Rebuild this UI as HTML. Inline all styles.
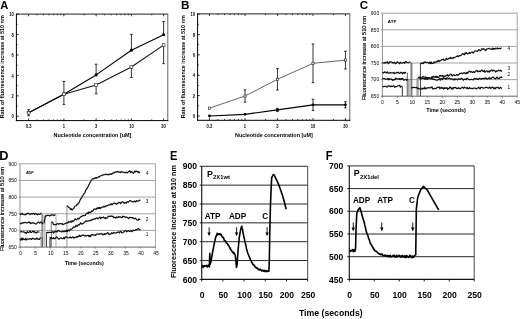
<!DOCTYPE html>
<html><head><meta charset="utf-8"><style>
html,body{margin:0;padding:0;background:#fff;width:520px;height:319px;overflow:hidden}
svg{display:block;filter:blur(0.3px)}
text{font-family:"Liberation Sans",sans-serif}
</style></head><body>
<svg width="520" height="319" viewBox="0 0 520 319">
<rect width="520" height="319" fill="#fff"/>
<text x="0.3" y="8.9" font-size="11.2" font-weight="bold" text-anchor="start" fill="#000">A</text>
<text x="180.9" y="8.9" font-size="11.2" font-weight="bold" text-anchor="start" fill="#000" transform="translate(180.9 8.9) scale(1.05 1) translate(-180.9 -8.9)">B</text>
<text x="359.7" y="8.8" font-size="11.6" font-weight="bold" text-anchor="start" fill="#000">C</text>
<text x="-0.8" y="159.6" font-size="12.3" font-weight="bold" text-anchor="start" fill="#000" transform="translate(-0.8 159.6) scale(1.04 1) translate(0.8 -159.6)">D</text>
<text x="170.1" y="159.7" font-size="12.0" font-weight="bold" text-anchor="start" fill="#000" transform="translate(170.1 159.7) scale(0.92 1) translate(-170.1 -159.7)">E</text>
<text x="325.8" y="159.7" font-size="12.5" font-weight="bold" text-anchor="start" fill="#000" transform="translate(325.8 159.7) scale(0.88 1) translate(-325.8 -159.7)">F</text>
<line x1="16.4" y1="14.1" x2="167.8" y2="14.1" stroke="#222" stroke-width="1"/>
<line x1="167.8" y1="13.6" x2="167.8" y2="121.1" stroke="#666" stroke-width="1"/>
<line x1="16.4" y1="13.6" x2="16.4" y2="121.1" stroke="#000" stroke-width="1"/>
<line x1="15.9" y1="120.6" x2="168.3" y2="120.6" stroke="#000" stroke-width="1"/>
<line x1="16.4" y1="116.3" x2="18.6" y2="116.3" stroke="#000" stroke-width="0.8"/>
<line x1="16.4" y1="106.08" x2="17.6" y2="106.08" stroke="#000" stroke-width="0.8"/>
<line x1="16.4" y1="95.86" x2="18.6" y2="95.86" stroke="#000" stroke-width="0.8"/>
<line x1="16.4" y1="85.64" x2="17.6" y2="85.64" stroke="#000" stroke-width="0.8"/>
<line x1="16.4" y1="75.42" x2="18.6" y2="75.42" stroke="#000" stroke-width="0.8"/>
<line x1="16.4" y1="65.2" x2="17.6" y2="65.2" stroke="#000" stroke-width="0.8"/>
<line x1="16.4" y1="54.98" x2="18.6" y2="54.98" stroke="#000" stroke-width="0.8"/>
<line x1="16.4" y1="44.76" x2="17.6" y2="44.76" stroke="#000" stroke-width="0.8"/>
<line x1="16.4" y1="34.54" x2="18.6" y2="34.54" stroke="#000" stroke-width="0.8"/>
<line x1="16.4" y1="24.32" x2="17.6" y2="24.32" stroke="#000" stroke-width="0.8"/>
<line x1="16.4" y1="14.1" x2="18.6" y2="14.1" stroke="#000" stroke-width="0.8"/>
<text x="13.8" y="118.5" font-size="4.8" font-weight="bold" text-anchor="end" fill="#000" transform="translate(13.8 118.5) scale(0.85 1) translate(-13.8 -118.5)">0</text>
<text x="13.8" y="98.06" font-size="4.8" font-weight="bold" text-anchor="end" fill="#000" transform="translate(13.8 98.06) scale(0.85 1) translate(-13.8 -98.06)">2</text>
<text x="13.8" y="77.62" font-size="4.8" font-weight="bold" text-anchor="end" fill="#000" transform="translate(13.8 77.62) scale(0.85 1) translate(-13.8 -77.62)">4</text>
<text x="13.8" y="57.18" font-size="4.8" font-weight="bold" text-anchor="end" fill="#000" transform="translate(13.8 57.18) scale(0.85 1) translate(-13.8 -57.18)">6</text>
<text x="13.8" y="36.74" font-size="4.8" font-weight="bold" text-anchor="end" fill="#000" transform="translate(13.8 36.74) scale(0.85 1) translate(-13.8 -36.74)">8</text>
<text x="13.8" y="16.3" font-size="4.8" font-weight="bold" text-anchor="end" fill="#000" transform="translate(13.8 16.3) scale(0.85 1) translate(-13.8 -16.3)">10</text>
<line x1="28.61" y1="120.6" x2="28.61" y2="118.4" stroke="#000" stroke-width="0.8"/>
<line x1="28.61" y1="14.1" x2="28.61" y2="16.3" stroke="#000" stroke-width="0.8"/>
<line x1="37.04" y1="120.6" x2="37.04" y2="119.4" stroke="#000" stroke-width="0.8"/>
<line x1="37.04" y1="14.1" x2="37.04" y2="15.3" stroke="#000" stroke-width="0.8"/>
<line x1="43.58" y1="120.6" x2="43.58" y2="119.4" stroke="#000" stroke-width="0.8"/>
<line x1="43.58" y1="14.1" x2="43.58" y2="15.3" stroke="#000" stroke-width="0.8"/>
<line x1="48.93" y1="120.6" x2="48.93" y2="119.4" stroke="#000" stroke-width="0.8"/>
<line x1="48.93" y1="14.1" x2="48.93" y2="15.3" stroke="#000" stroke-width="0.8"/>
<line x1="53.44" y1="120.6" x2="53.44" y2="119.4" stroke="#000" stroke-width="0.8"/>
<line x1="53.44" y1="14.1" x2="53.44" y2="15.3" stroke="#000" stroke-width="0.8"/>
<line x1="57.36" y1="120.6" x2="57.36" y2="119.4" stroke="#000" stroke-width="0.8"/>
<line x1="57.36" y1="14.1" x2="57.36" y2="15.3" stroke="#000" stroke-width="0.8"/>
<line x1="60.81" y1="120.6" x2="60.81" y2="119.4" stroke="#000" stroke-width="0.8"/>
<line x1="60.81" y1="14.1" x2="60.81" y2="15.3" stroke="#000" stroke-width="0.8"/>
<line x1="63.9" y1="120.6" x2="63.9" y2="118.4" stroke="#000" stroke-width="0.8"/>
<line x1="63.9" y1="14.1" x2="63.9" y2="16.3" stroke="#000" stroke-width="0.8"/>
<line x1="84.22" y1="120.6" x2="84.22" y2="119.4" stroke="#000" stroke-width="0.8"/>
<line x1="84.22" y1="14.1" x2="84.22" y2="15.3" stroke="#000" stroke-width="0.8"/>
<line x1="96.11" y1="120.6" x2="96.11" y2="118.4" stroke="#000" stroke-width="0.8"/>
<line x1="96.11" y1="14.1" x2="96.11" y2="16.3" stroke="#000" stroke-width="0.8"/>
<line x1="104.54" y1="120.6" x2="104.54" y2="119.4" stroke="#000" stroke-width="0.8"/>
<line x1="104.54" y1="14.1" x2="104.54" y2="15.3" stroke="#000" stroke-width="0.8"/>
<line x1="111.08" y1="120.6" x2="111.08" y2="119.4" stroke="#000" stroke-width="0.8"/>
<line x1="111.08" y1="14.1" x2="111.08" y2="15.3" stroke="#000" stroke-width="0.8"/>
<line x1="116.43" y1="120.6" x2="116.43" y2="119.4" stroke="#000" stroke-width="0.8"/>
<line x1="116.43" y1="14.1" x2="116.43" y2="15.3" stroke="#000" stroke-width="0.8"/>
<line x1="120.94" y1="120.6" x2="120.94" y2="119.4" stroke="#000" stroke-width="0.8"/>
<line x1="120.94" y1="14.1" x2="120.94" y2="15.3" stroke="#000" stroke-width="0.8"/>
<line x1="124.86" y1="120.6" x2="124.86" y2="119.4" stroke="#000" stroke-width="0.8"/>
<line x1="124.86" y1="14.1" x2="124.86" y2="15.3" stroke="#000" stroke-width="0.8"/>
<line x1="128.31" y1="120.6" x2="128.31" y2="119.4" stroke="#000" stroke-width="0.8"/>
<line x1="128.31" y1="14.1" x2="128.31" y2="15.3" stroke="#000" stroke-width="0.8"/>
<line x1="131.4" y1="120.6" x2="131.4" y2="118.4" stroke="#000" stroke-width="0.8"/>
<line x1="131.4" y1="14.1" x2="131.4" y2="16.3" stroke="#000" stroke-width="0.8"/>
<line x1="151.72" y1="120.6" x2="151.72" y2="119.4" stroke="#000" stroke-width="0.8"/>
<line x1="151.72" y1="14.1" x2="151.72" y2="15.3" stroke="#000" stroke-width="0.8"/>
<line x1="163.61" y1="120.6" x2="163.61" y2="118.4" stroke="#000" stroke-width="0.8"/>
<line x1="163.61" y1="14.1" x2="163.61" y2="16.3" stroke="#000" stroke-width="0.8"/>
<text x="28.61" y="128.2" font-size="4.8" font-weight="bold" text-anchor="middle" fill="#000" transform="translate(28.61 128.2) scale(0.85 1) translate(-28.61 -128.2)">0.3</text>
<text x="63.9" y="128.2" font-size="4.8" font-weight="bold" text-anchor="middle" fill="#000" transform="translate(63.9 128.2) scale(0.85 1) translate(-63.9 -128.2)">1</text>
<text x="96.11" y="128.2" font-size="4.8" font-weight="bold" text-anchor="middle" fill="#000" transform="translate(96.11 128.2) scale(0.85 1) translate(-96.11 -128.2)">3</text>
<text x="131.4" y="128.2" font-size="4.8" font-weight="bold" text-anchor="middle" fill="#000" transform="translate(131.4 128.2) scale(0.85 1) translate(-131.4 -128.2)">10</text>
<text x="163.61" y="128.2" font-size="4.8" font-weight="bold" text-anchor="middle" fill="#000" transform="translate(163.61 128.2) scale(0.85 1) translate(-163.61 -128.2)">30</text>
<text x="92.4" y="137" font-size="5.4" font-weight="bold" text-anchor="middle" fill="#000" textLength="77.8" lengthAdjust="spacingAndGlyphs">Nucleotide concentration [uM]</text>
<text x="3.7" y="66.8" font-size="5.3" font-weight="bold" text-anchor="middle" fill="#000" transform="rotate(-90 3.7 66.8)" textLength="103" lengthAdjust="spacingAndGlyphs">Rate of fluorescence increase at 510 nm</text>
<polyline points="28.61,112.72 63.9,94.22 96.11,74.91 131.4,50.18 163.61,34.74" fill="none" stroke="#000" stroke-width="1.1" stroke-linejoin="round"/>
<polyline points="28.61,112.72 63.9,94.22 96.11,85.03 131.4,67.04 163.61,45.07" fill="none" stroke="#111" stroke-width="1.05" stroke-linejoin="round"/>
<line x1="28.61" y1="109.66" x2="28.61" y2="112.72" stroke="#000" stroke-width="0.8"/>
<line x1="27.31" y1="109.66" x2="29.91" y2="109.66" stroke="#000" stroke-width="0.8"/>
<line x1="63.9" y1="81.45" x2="63.9" y2="94.22" stroke="#000" stroke-width="0.8"/>
<line x1="62.6" y1="81.45" x2="65.2" y2="81.45" stroke="#000" stroke-width="0.8"/>
<line x1="96.11" y1="64.18" x2="96.11" y2="74.91" stroke="#000" stroke-width="0.8"/>
<line x1="94.81" y1="64.18" x2="97.41" y2="64.18" stroke="#000" stroke-width="0.8"/>
<line x1="131.4" y1="34.34" x2="131.4" y2="50.18" stroke="#000" stroke-width="0.8"/>
<line x1="130.1" y1="34.34" x2="132.7" y2="34.34" stroke="#000" stroke-width="0.8"/>
<line x1="163.61" y1="21.56" x2="163.61" y2="34.74" stroke="#000" stroke-width="0.8"/>
<line x1="162.31" y1="21.56" x2="164.91" y2="21.56" stroke="#000" stroke-width="0.8"/>
<line x1="28.61" y1="112.72" x2="28.61" y2="115.79" stroke="#000" stroke-width="0.8"/>
<line x1="27.31" y1="115.79" x2="29.91" y2="115.79" stroke="#000" stroke-width="0.8"/>
<line x1="63.9" y1="94.22" x2="63.9" y2="104.44" stroke="#000" stroke-width="0.8"/>
<line x1="62.6" y1="104.44" x2="65.2" y2="104.44" stroke="#000" stroke-width="0.8"/>
<line x1="96.11" y1="85.03" x2="96.11" y2="93.82" stroke="#000" stroke-width="0.8"/>
<line x1="94.81" y1="93.82" x2="97.41" y2="93.82" stroke="#000" stroke-width="0.8"/>
<line x1="131.4" y1="67.04" x2="131.4" y2="77.57" stroke="#000" stroke-width="0.8"/>
<line x1="130.1" y1="77.57" x2="132.7" y2="77.57" stroke="#000" stroke-width="0.8"/>
<line x1="163.61" y1="45.07" x2="163.61" y2="63.67" stroke="#000" stroke-width="0.8"/>
<line x1="162.31" y1="63.67" x2="164.91" y2="63.67" stroke="#000" stroke-width="0.8"/>
<circle cx="28.61" cy="112.72" r="1.6" fill="#000"/>
<circle cx="63.9" cy="94.22" r="1.6" fill="#000"/>
<circle cx="96.11" cy="74.91" r="1.6" fill="#000"/>
<circle cx="131.4" cy="50.18" r="1.6" fill="#000"/>
<circle cx="163.61" cy="34.74" r="1.6" fill="#000"/>
<rect x="27.21" y="111.32" width="2.8" height="2.8" fill="#fff" stroke="#333" stroke-width="0.7"/>
<rect x="62.5" y="92.82" width="2.8" height="2.8" fill="#fff" stroke="#333" stroke-width="0.7"/>
<rect x="94.71" y="83.63" width="2.8" height="2.8" fill="#fff" stroke="#333" stroke-width="0.7"/>
<rect x="130" y="65.64" width="2.8" height="2.8" fill="#fff" stroke="#333" stroke-width="0.7"/>
<rect x="162.21" y="43.67" width="2.8" height="2.8" fill="#fff" stroke="#333" stroke-width="0.7"/>
<line x1="197.6" y1="13.9" x2="349.8" y2="13.9" stroke="#222" stroke-width="1"/>
<line x1="349.8" y1="13.4" x2="349.8" y2="120.8" stroke="#666" stroke-width="1"/>
<line x1="197.6" y1="13.4" x2="197.6" y2="120.8" stroke="#000" stroke-width="1"/>
<line x1="197.1" y1="120.3" x2="350.3" y2="120.3" stroke="#000" stroke-width="1"/>
<line x1="197.6" y1="116" x2="199.8" y2="116" stroke="#000" stroke-width="0.8"/>
<line x1="197.6" y1="105.81" x2="198.8" y2="105.81" stroke="#000" stroke-width="0.8"/>
<line x1="197.6" y1="95.62" x2="199.8" y2="95.62" stroke="#000" stroke-width="0.8"/>
<line x1="197.6" y1="85.43" x2="198.8" y2="85.43" stroke="#000" stroke-width="0.8"/>
<line x1="197.6" y1="75.24" x2="199.8" y2="75.24" stroke="#000" stroke-width="0.8"/>
<line x1="197.6" y1="65.05" x2="198.8" y2="65.05" stroke="#000" stroke-width="0.8"/>
<line x1="197.6" y1="54.86" x2="199.8" y2="54.86" stroke="#000" stroke-width="0.8"/>
<line x1="197.6" y1="44.67" x2="198.8" y2="44.67" stroke="#000" stroke-width="0.8"/>
<line x1="197.6" y1="34.48" x2="199.8" y2="34.48" stroke="#000" stroke-width="0.8"/>
<line x1="197.6" y1="24.29" x2="198.8" y2="24.29" stroke="#000" stroke-width="0.8"/>
<line x1="197.6" y1="14.1" x2="199.8" y2="14.1" stroke="#000" stroke-width="0.8"/>
<text x="195" y="118.2" font-size="4.8" font-weight="bold" text-anchor="end" fill="#000" transform="translate(195 118.2) scale(0.85 1) translate(-195 -118.2)">0</text>
<text x="195" y="97.82" font-size="4.8" font-weight="bold" text-anchor="end" fill="#000" transform="translate(195 97.82) scale(0.85 1) translate(-195 -97.82)">2</text>
<text x="195" y="77.44" font-size="4.8" font-weight="bold" text-anchor="end" fill="#000" transform="translate(195 77.44) scale(0.85 1) translate(-195 -77.44)">4</text>
<text x="195" y="57.06" font-size="4.8" font-weight="bold" text-anchor="end" fill="#000" transform="translate(195 57.06) scale(0.85 1) translate(-195 -57.06)">6</text>
<text x="195" y="36.68" font-size="4.8" font-weight="bold" text-anchor="end" fill="#000" transform="translate(195 36.68) scale(0.85 1) translate(-195 -36.68)">8</text>
<text x="195" y="16.3" font-size="4.8" font-weight="bold" text-anchor="end" fill="#000" transform="translate(195 16.3) scale(0.85 1) translate(-195 -16.3)">10</text>
<line x1="209.44" y1="120.3" x2="209.44" y2="118.1" stroke="#000" stroke-width="0.8"/>
<line x1="209.44" y1="13.9" x2="209.44" y2="16.1" stroke="#000" stroke-width="0.8"/>
<line x1="217.94" y1="120.3" x2="217.94" y2="119.1" stroke="#000" stroke-width="0.8"/>
<line x1="217.94" y1="13.9" x2="217.94" y2="15.1" stroke="#000" stroke-width="0.8"/>
<line x1="224.53" y1="120.3" x2="224.53" y2="119.1" stroke="#000" stroke-width="0.8"/>
<line x1="224.53" y1="13.9" x2="224.53" y2="15.1" stroke="#000" stroke-width="0.8"/>
<line x1="229.91" y1="120.3" x2="229.91" y2="119.1" stroke="#000" stroke-width="0.8"/>
<line x1="229.91" y1="13.9" x2="229.91" y2="15.1" stroke="#000" stroke-width="0.8"/>
<line x1="234.47" y1="120.3" x2="234.47" y2="119.1" stroke="#000" stroke-width="0.8"/>
<line x1="234.47" y1="13.9" x2="234.47" y2="15.1" stroke="#000" stroke-width="0.8"/>
<line x1="238.41" y1="120.3" x2="238.41" y2="119.1" stroke="#000" stroke-width="0.8"/>
<line x1="238.41" y1="13.9" x2="238.41" y2="15.1" stroke="#000" stroke-width="0.8"/>
<line x1="241.89" y1="120.3" x2="241.89" y2="119.1" stroke="#000" stroke-width="0.8"/>
<line x1="241.89" y1="13.9" x2="241.89" y2="15.1" stroke="#000" stroke-width="0.8"/>
<line x1="245" y1="120.3" x2="245" y2="118.1" stroke="#000" stroke-width="0.8"/>
<line x1="245" y1="13.9" x2="245" y2="16.1" stroke="#000" stroke-width="0.8"/>
<line x1="265.47" y1="120.3" x2="265.47" y2="119.1" stroke="#000" stroke-width="0.8"/>
<line x1="265.47" y1="13.9" x2="265.47" y2="15.1" stroke="#000" stroke-width="0.8"/>
<line x1="277.44" y1="120.3" x2="277.44" y2="118.1" stroke="#000" stroke-width="0.8"/>
<line x1="277.44" y1="13.9" x2="277.44" y2="16.1" stroke="#000" stroke-width="0.8"/>
<line x1="285.94" y1="120.3" x2="285.94" y2="119.1" stroke="#000" stroke-width="0.8"/>
<line x1="285.94" y1="13.9" x2="285.94" y2="15.1" stroke="#000" stroke-width="0.8"/>
<line x1="292.53" y1="120.3" x2="292.53" y2="119.1" stroke="#000" stroke-width="0.8"/>
<line x1="292.53" y1="13.9" x2="292.53" y2="15.1" stroke="#000" stroke-width="0.8"/>
<line x1="297.91" y1="120.3" x2="297.91" y2="119.1" stroke="#000" stroke-width="0.8"/>
<line x1="297.91" y1="13.9" x2="297.91" y2="15.1" stroke="#000" stroke-width="0.8"/>
<line x1="302.47" y1="120.3" x2="302.47" y2="119.1" stroke="#000" stroke-width="0.8"/>
<line x1="302.47" y1="13.9" x2="302.47" y2="15.1" stroke="#000" stroke-width="0.8"/>
<line x1="306.41" y1="120.3" x2="306.41" y2="119.1" stroke="#000" stroke-width="0.8"/>
<line x1="306.41" y1="13.9" x2="306.41" y2="15.1" stroke="#000" stroke-width="0.8"/>
<line x1="309.89" y1="120.3" x2="309.89" y2="119.1" stroke="#000" stroke-width="0.8"/>
<line x1="309.89" y1="13.9" x2="309.89" y2="15.1" stroke="#000" stroke-width="0.8"/>
<line x1="313" y1="120.3" x2="313" y2="118.1" stroke="#000" stroke-width="0.8"/>
<line x1="313" y1="13.9" x2="313" y2="16.1" stroke="#000" stroke-width="0.8"/>
<line x1="333.47" y1="120.3" x2="333.47" y2="119.1" stroke="#000" stroke-width="0.8"/>
<line x1="333.47" y1="13.9" x2="333.47" y2="15.1" stroke="#000" stroke-width="0.8"/>
<line x1="345.44" y1="120.3" x2="345.44" y2="118.1" stroke="#000" stroke-width="0.8"/>
<line x1="345.44" y1="13.9" x2="345.44" y2="16.1" stroke="#000" stroke-width="0.8"/>
<text x="209.44" y="127.9" font-size="4.8" font-weight="bold" text-anchor="middle" fill="#000" transform="translate(209.44 127.9) scale(0.85 1) translate(-209.44 -127.9)">0.3</text>
<text x="245" y="127.9" font-size="4.8" font-weight="bold" text-anchor="middle" fill="#000" transform="translate(245 127.9) scale(0.85 1) translate(-245 -127.9)">1</text>
<text x="277.44" y="127.9" font-size="4.8" font-weight="bold" text-anchor="middle" fill="#000" transform="translate(277.44 127.9) scale(0.85 1) translate(-277.44 -127.9)">3</text>
<text x="313" y="127.9" font-size="4.8" font-weight="bold" text-anchor="middle" fill="#000" transform="translate(313 127.9) scale(0.85 1) translate(-313 -127.9)">10</text>
<text x="345.44" y="127.9" font-size="4.8" font-weight="bold" text-anchor="middle" fill="#000" transform="translate(345.44 127.9) scale(0.85 1) translate(-345.44 -127.9)">30</text>
<text x="274" y="136.7" font-size="5.4" font-weight="bold" text-anchor="middle" fill="#000" textLength="77.8" lengthAdjust="spacingAndGlyphs">Nucleotide concentration [uM]</text>
<text x="185.3" y="66.8" font-size="5.3" font-weight="bold" text-anchor="middle" fill="#000" transform="rotate(-90 185.3 66.8)" textLength="103" lengthAdjust="spacingAndGlyphs">Rate of fluorescence increase at 510 nm</text>
<polyline points="209.44,116 245,114.37 277.44,109.89 313,104.79 345.44,104.79" fill="none" stroke="#000" stroke-width="1.2" stroke-linejoin="round"/>
<polyline points="209.44,108.15 245,96.03 277.44,79.32 313,63.32 345.44,60.16" fill="none" stroke="#555" stroke-width="0.9" stroke-linejoin="round"/>
<line x1="277.44" y1="108.36" x2="277.44" y2="111.41" stroke="#000" stroke-width="0.8"/>
<line x1="276.14" y1="108.36" x2="278.74" y2="108.36" stroke="#000" stroke-width="0.8"/>
<line x1="276.14" y1="111.41" x2="278.74" y2="111.41" stroke="#000" stroke-width="0.8"/>
<line x1="313" y1="99.19" x2="313" y2="110.4" stroke="#000" stroke-width="0.8"/>
<line x1="311.7" y1="99.19" x2="314.3" y2="99.19" stroke="#000" stroke-width="0.8"/>
<line x1="311.7" y1="110.4" x2="314.3" y2="110.4" stroke="#000" stroke-width="0.8"/>
<line x1="345.44" y1="101.73" x2="345.44" y2="107.85" stroke="#000" stroke-width="0.8"/>
<line x1="344.14" y1="101.73" x2="346.74" y2="101.73" stroke="#000" stroke-width="0.8"/>
<line x1="344.14" y1="107.85" x2="346.74" y2="107.85" stroke="#000" stroke-width="0.8"/>
<line x1="245" y1="89.91" x2="245" y2="102.14" stroke="#000" stroke-width="0.8"/>
<line x1="243.7" y1="89.91" x2="246.3" y2="89.91" stroke="#000" stroke-width="0.8"/>
<line x1="243.7" y1="102.14" x2="246.3" y2="102.14" stroke="#000" stroke-width="0.8"/>
<line x1="277.44" y1="68.62" x2="277.44" y2="90.02" stroke="#000" stroke-width="0.8"/>
<line x1="276.14" y1="68.62" x2="278.74" y2="68.62" stroke="#000" stroke-width="0.8"/>
<line x1="276.14" y1="90.02" x2="278.74" y2="90.02" stroke="#000" stroke-width="0.8"/>
<line x1="313" y1="43.96" x2="313" y2="82.68" stroke="#000" stroke-width="0.8"/>
<line x1="311.7" y1="43.96" x2="314.3" y2="43.96" stroke="#000" stroke-width="0.8"/>
<line x1="311.7" y1="82.68" x2="314.3" y2="82.68" stroke="#000" stroke-width="0.8"/>
<line x1="345.44" y1="51.29" x2="345.44" y2="69.02" stroke="#000" stroke-width="0.8"/>
<line x1="344.14" y1="51.29" x2="346.74" y2="51.29" stroke="#000" stroke-width="0.8"/>
<line x1="344.14" y1="69.02" x2="346.74" y2="69.02" stroke="#000" stroke-width="0.8"/>
<circle cx="209.44" cy="116" r="1.4" fill="#000"/>
<circle cx="245" cy="114.37" r="1.4" fill="#000"/>
<circle cx="277.44" cy="109.89" r="1.4" fill="#000"/>
<circle cx="313" cy="104.79" r="1.4" fill="#000"/>
<circle cx="345.44" cy="104.79" r="1.4" fill="#000"/>
<rect x="208.34" y="107.05" width="2.2" height="2.2" fill="#fff" stroke="#333" stroke-width="0.7"/>
<rect x="243.9" y="94.93" width="2.2" height="2.2" fill="#fff" stroke="#333" stroke-width="0.7"/>
<rect x="276.34" y="78.22" width="2.2" height="2.2" fill="#fff" stroke="#333" stroke-width="0.7"/>
<rect x="311.9" y="62.22" width="2.2" height="2.2" fill="#fff" stroke="#333" stroke-width="0.7"/>
<rect x="344.34" y="59.06" width="2.2" height="2.2" fill="#fff" stroke="#333" stroke-width="0.7"/>
<line x1="380.9" y1="13.2" x2="517.2" y2="13.2" stroke="#8c8c8c" stroke-width="0.8"/>
<line x1="380.9" y1="29.8" x2="517.2" y2="29.8" stroke="#8c8c8c" stroke-width="0.8"/>
<line x1="380.9" y1="46.4" x2="517.2" y2="46.4" stroke="#8c8c8c" stroke-width="0.8"/>
<line x1="380.9" y1="63" x2="517.2" y2="63" stroke="#8c8c8c" stroke-width="0.8"/>
<line x1="380.9" y1="79.6" x2="517.2" y2="79.6" stroke="#8c8c8c" stroke-width="0.8"/>
<line x1="517.2" y1="13.2" x2="517.2" y2="96.2" stroke="#8c8c8c" stroke-width="0.8"/>
<line x1="382.4" y1="13.2" x2="382.4" y2="96.2" stroke="#777" stroke-width="0.8"/>
<line x1="380.9" y1="96.2" x2="517.2" y2="96.2" stroke="#555" stroke-width="0.9"/>
<text x="379.2" y="15" font-size="5.0" text-anchor="end" fill="#000">900</text>
<text x="379.2" y="31.6" font-size="5.0" text-anchor="end" fill="#000">850</text>
<text x="379.2" y="48.2" font-size="5.0" text-anchor="end" fill="#000">800</text>
<text x="379.2" y="64.8" font-size="5.0" text-anchor="end" fill="#000">750</text>
<text x="379.2" y="81.4" font-size="5.0" text-anchor="end" fill="#000">700</text>
<text x="379.2" y="98" font-size="5.0" text-anchor="end" fill="#000">650</text>
<line x1="382.4" y1="96.2" x2="382.4" y2="97.7" stroke="#555" stroke-width="0.7"/>
<text x="382.4" y="103.7" font-size="5.0" text-anchor="middle" fill="#000">0</text>
<line x1="397.38" y1="96.2" x2="397.38" y2="97.7" stroke="#555" stroke-width="0.7"/>
<text x="397.38" y="103.7" font-size="5.0" text-anchor="middle" fill="#000">5</text>
<line x1="412.36" y1="96.2" x2="412.36" y2="97.7" stroke="#555" stroke-width="0.7"/>
<text x="412.36" y="103.7" font-size="5.0" text-anchor="middle" fill="#000">10</text>
<line x1="427.33" y1="96.2" x2="427.33" y2="97.7" stroke="#555" stroke-width="0.7"/>
<text x="427.33" y="103.7" font-size="5.0" text-anchor="middle" fill="#000">15</text>
<line x1="442.31" y1="96.2" x2="442.31" y2="97.7" stroke="#555" stroke-width="0.7"/>
<text x="442.31" y="103.7" font-size="5.0" text-anchor="middle" fill="#000">20</text>
<line x1="457.29" y1="96.2" x2="457.29" y2="97.7" stroke="#555" stroke-width="0.7"/>
<text x="457.29" y="103.7" font-size="5.0" text-anchor="middle" fill="#000">25</text>
<line x1="472.27" y1="96.2" x2="472.27" y2="97.7" stroke="#555" stroke-width="0.7"/>
<text x="472.27" y="103.7" font-size="5.0" text-anchor="middle" fill="#000">30</text>
<line x1="487.24" y1="96.2" x2="487.24" y2="97.7" stroke="#555" stroke-width="0.7"/>
<text x="487.24" y="103.7" font-size="5.0" text-anchor="middle" fill="#000">35</text>
<line x1="502.22" y1="96.2" x2="502.22" y2="97.7" stroke="#555" stroke-width="0.7"/>
<text x="502.22" y="103.7" font-size="5.0" text-anchor="middle" fill="#000">40</text>
<line x1="517.2" y1="96.2" x2="517.2" y2="97.7" stroke="#555" stroke-width="0.7"/>
<text x="517.2" y="103.7" font-size="5.0" text-anchor="middle" fill="#000">45</text>
<text x="446" y="111.6" font-size="5.4" font-weight="bold" text-anchor="middle" fill="#000" textLength="39.5" lengthAdjust="spacingAndGlyphs">Time (seconds)</text>
<text x="365.7" y="58.1" font-size="5.9" text-anchor="middle" fill="#000" transform="rotate(-90 365.7 58.1)" stroke="#000" stroke-width="0.15" textLength="84.2" lengthAdjust="spacingAndGlyphs">Fluorescence increase at 510 nm</text>
<text x="387.8" y="22.9" font-size="4.4" font-weight="bold" text-anchor="start" fill="#000" textLength="8.6" lengthAdjust="spacingAndGlyphs">ATP</text>
<line x1="411.16" y1="62.67" x2="411.16" y2="96.2" stroke="#000" stroke-width="0.8"/>
<line x1="412.21" y1="62.67" x2="412.21" y2="96.2" stroke="#999" stroke-width="0.8"/>
<line x1="407.26" y1="72.63" x2="407.26" y2="96.2" stroke="#333" stroke-width="0.8"/>
<line x1="408.91" y1="79.27" x2="408.91" y2="96.2" stroke="#444" stroke-width="0.8"/>
<line x1="402.32" y1="86.24" x2="402.32" y2="96.2" stroke="#000" stroke-width="0.8"/>
<line x1="420.44" y1="63" x2="420.44" y2="96.2" stroke="#111" stroke-width="0.8"/>
<line x1="416.85" y1="77.61" x2="416.85" y2="96.2" stroke="#999" stroke-width="0.8"/>
<line x1="417.6" y1="77.61" x2="417.6" y2="96.2" stroke="#888" stroke-width="0.8"/>
<line x1="418.35" y1="77.61" x2="418.35" y2="96.2" stroke="#999" stroke-width="0.8"/>
<polyline points="382.4,62.73 383.12,62.94 383.84,63.01 384.56,62.55 385.28,63.18 385.99,62.02 386.71,62.65 387.43,61.75 388.15,63.74 388.87,63.17 389.59,61.77 390.31,61.91 391.03,61.97 391.75,62.05 392.47,62.85 393.18,62.69 393.9,62.81 394.62,62.19 395.34,63.83 396.06,63.5 396.78,62.36 397.5,61.87 398.22,62.67 398.94,62.87 399.65,63.85 400.37,62.14 401.09,62.93 401.81,63.08 402.53,62.88 403.25,62.52 403.97,62.19 404.69,63.35 405.41,62.09 406.12,61.52 406.84,62.13 407.56,62.62 408.28,62.82 409,62.46 409.72,61.96 410.44,61.7" fill="none" stroke="#111" stroke-width="1.2" stroke-linejoin="round"/>
<polyline points="420.44,63.97 421.16,63.75 421.88,62.56 422.6,63.39 423.32,63.56 424.04,62.07 424.76,62.58 425.48,61.92 426.2,62.52 426.91,62.5 427.63,62.3 428.35,62.92 429.07,63.6 429.79,61.95 430.51,63.57 431.23,62.09 431.95,63.67 432.67,63.33 433.38,63.08 434.1,61.84 434.82,62.77 435.54,62.04 436.26,62.05 436.98,61.21 437.7,61.59 438.42,60.31 439.14,61.57 439.85,60.6 440.57,60.69 441.29,60.03 442.01,59.49 442.73,59.61 443.45,59.2 444.17,60.3 444.89,60.19 445.61,59.9 446.33,58.24 447.04,59.21 447.76,59.47 448.48,58.29 449.2,58.43 449.92,58.66 450.64,57.39 451.36,58.27 452.08,57.97 452.8,58.35 453.51,57.45 454.23,57.9 454.95,57.31 455.67,56.96 456.39,56.35 457.11,56.47 457.83,55.81 458.55,56.56 459.27,55.53 459.98,55.72 460.7,55.76 461.42,54.96 462.14,54.2 462.86,53.57 463.58,54.2 464.3,54.9 465.02,52.84 465.74,53.76 466.46,52.51 467.17,53.76 467.89,53.91 468.61,53.17 469.33,52.37 470.05,53.48 470.77,52.68 471.49,52.3 472.21,52.01 472.93,52.83 473.64,52.94 474.36,51.03 475.08,51.01 475.8,50.85 476.52,51.05 477.24,51.36 477.96,51 478.68,49.56 479.4,49.82 480.12,50.7 480.83,50.63 481.55,48.9 482.27,48.73 482.99,49.43 483.71,48.62 484.43,49.46 485.15,49.87 485.87,50.56 486.59,49.13 487.3,48.83 488.02,48.74 488.74,48.44 489.46,48.44 490.18,48.92 490.9,49.33 491.62,49.15 492.34,48.16 493.06,49.45 493.77,48.3 494.49,49.13 495.21,48.26 495.93,48.93 496.65,48.5 497.37,47.84 498.09,48.85 498.81,48.51 499.53,48.31 500.25,48.79 500.96,48.22 501.68,48.15" fill="none" stroke="#111" stroke-width="1.2" stroke-linejoin="round"/>
<polyline points="382.4,72.67 383.12,72.36 383.84,73.01 384.56,71.8 385.28,72.14 385.99,72.47 386.71,73.2 387.43,71.81 388.15,72.87 388.87,73.14 389.59,73.1 390.31,72.61 391.03,72.84 391.75,72.93 392.47,72.74 393.18,73.05 393.9,72.47 394.62,73.6 395.34,73.15 396.06,73.02 396.78,72.41 397.5,72.83 398.22,72.05 398.94,73.16 399.65,73.35 400.37,72.8 401.09,72.18 401.81,72.68 402.53,73.82 403.25,72.69 403.97,72.27 404.69,73.4 405.41,72.38 406.12,72.6" fill="none" stroke="#111" stroke-width="1.2" stroke-linejoin="round"/>
<polyline points="418.05,77.32 418.77,77.23 419.48,77.13 420.2,77.46 420.92,77.8 421.64,77.65 422.36,77.07 423.08,76.5 423.8,77.18 424.52,77.15 425.24,76.84 425.96,77.49 426.67,77.57 427.39,78.07 428.11,77.54 428.83,78.55 429.55,77.77 430.27,78.37 430.99,78.11 431.71,76.89 432.43,77.56 433.14,76.18 433.86,77.11 434.58,76.72 435.3,77.45 436.02,76.04 436.74,77.57 437.46,76.52 438.18,77.47 438.9,77.19 439.62,75.69 440.33,75.29 441.05,76.28 441.77,75.66 442.49,75.41 443.21,77.16 443.93,75.78 444.65,76.64 445.37,76.21 446.09,75.46 446.8,75.39 447.52,74.67 448.24,76.23 448.96,75.06 449.68,75.14 450.4,74.29 451.12,74 451.84,75.71 452.56,75.78 453.27,74.83 453.99,74.86 454.71,75.61 455.43,75.23 456.15,75.05 456.87,74.43 457.59,75.35 458.31,74.96 459.03,74.22 459.75,73.48 460.46,73.72 461.18,72.88 461.9,73.51 462.62,73.75 463.34,72.8 464.06,73.25 464.78,72.79 465.5,73.53 466.22,73.6 466.93,72.39 467.65,73.37 468.37,72.21 469.09,71.27 469.81,71 470.53,72.24 471.25,71.61 471.97,72.1 472.69,72.49 473.4,71.48 474.12,72.51 474.84,72.19 475.56,71.08 476.28,70.95 477,70.45 477.72,71.56 478.44,71.77 479.16,70.98 479.88,71.59 480.59,71.6 481.31,70.17 482.03,70.06 482.75,71.15 483.47,71.49 484.19,70.32 484.91,72.35 485.63,71.69 486.35,70.88 487.06,70.9 487.78,72 488.5,71.23 489.22,72.12 489.94,70.67 490.66,71.17 491.38,69.98 492.1,70.12 492.82,71.01 493.54,70.22 494.25,70.57 494.97,70.97 495.69,72.04 496.41,70.69 497.13,71.25 497.85,70.99 498.57,70.09 499.29,70.74 500.01,70.84 500.72,70.16 501.44,71.18 502.16,71.35" fill="none" stroke="#111" stroke-width="1.2" stroke-linejoin="round"/>
<polyline points="382.4,78.16 383.12,78.73 383.84,78.46 384.56,78.51 385.28,79.18 385.99,79.3 386.71,79.02 387.43,78.64 388.15,79.81 388.87,78.28 389.59,79.51 390.31,79.04 391.03,78.95 391.75,79.36 392.47,80.39 393.18,79.39 393.9,80.19 394.62,79.13 395.34,79.6 396.06,78.06 396.78,78.98 397.5,78.93 398.22,78.79 398.94,79.43 399.65,78.54 400.37,79.53 401.09,78.47 401.81,79.4 402.53,78.38 403.25,79.4 403.97,80.35 404.69,79.72 405.41,79.53 406.12,79.3 406.84,80.4 407.56,79.12" fill="none" stroke="#111" stroke-width="1.2" stroke-linejoin="round"/>
<polyline points="418.05,77.9 418.77,77.93 419.48,78.06 420.2,78.46 420.92,78.8 421.64,78.76 422.36,78.3 423.08,78.2 423.8,78.46 424.52,79.1 425.24,78.2 425.96,79.37 426.67,77.61 427.39,79.39 428.11,78.52 428.83,78.55 429.55,78 430.27,78.78 430.99,78.96 431.71,78.2 432.43,79.33 433.14,78.98 433.86,79.44 434.58,79.18 435.3,79.74 436.02,80.08 436.74,80.27 437.46,79.97 438.18,79.81 438.9,79.37 439.62,78.58 440.33,80.22 441.05,78.47 441.77,78.63 442.49,79.51 443.21,78.05 443.93,78.55 444.65,78.24 445.37,78.43 446.09,79.52 446.8,77.76 447.52,77.9 448.24,78.81 448.96,78.26 449.68,78.2 450.4,78.95 451.12,78.63 451.84,79.01 452.56,79.54 453.27,79.03 453.99,80.09 454.71,78.68 455.43,79.56 456.15,78.96 456.87,79.2 457.59,79.84 458.31,78.7 459.03,78.67 459.75,79.31 460.46,79.31 461.18,78.21 461.9,78.38 462.62,79.32 463.34,80.26 464.06,79.15 464.78,79.31 465.5,79.11 466.22,79.7 466.93,78.37 467.65,78.43 468.37,79.12 469.09,79.77 469.81,79.44 470.53,79.69 471.25,79.25 471.97,79.47 472.69,79.77 473.4,79.79 474.12,78.66 474.84,78.31 475.56,79.18 476.28,79.11 477,78.32 477.72,79.5 478.44,79.35 479.16,78.35 479.88,78.41 480.59,78.85 481.31,79.33 482.03,78.32 482.75,78.54 483.47,78.8 484.19,78.24 484.91,78.79 485.63,77.78 486.35,78.33 487.06,79.12 487.78,78.71 488.5,78.35 489.22,77.75 489.94,78.97 490.66,78.01 491.38,78.69 492.1,77.53 492.82,77.1 493.54,77.06 494.25,78.17 494.97,78.46 495.69,78.93 496.41,77.77 497.13,77.04 497.85,78.15 498.57,78.74 499.29,78.36 500.01,77.24 500.72,77.71 501.44,76.92 502.16,77.83" fill="none" stroke="#111" stroke-width="1.2" stroke-linejoin="round"/>
<polyline points="382.4,86.69 383.12,86.56 383.84,86.58 384.56,86.28 385.28,86.32 385.99,86.5 386.71,87.11 387.43,86.92 388.15,85.81 388.87,85.52 389.59,86.45 390.31,86.74 391.03,85.94 391.75,86.57 392.47,86.33 393.18,86.03 393.9,85.72 394.62,87.31 395.34,86.82 396.06,86.71 396.78,86.68 397.5,86.02 398.22,85.79 398.94,85.62 399.65,85.37 400.37,87.16 401.09,86.17 401.81,86.92" fill="none" stroke="#111" stroke-width="1.2" stroke-linejoin="round"/>
<polyline points="411.16,88.12 411.88,87.4 412.6,87.86 413.31,87.45 414.03,87.3 414.75,87.55 415.47,87.77 416.19,87.37 416.91,87.66 417.63,88.8 418.35,88.21 419.07,88.7 419.78,88.93 420.5,89.19 421.22,89.15 421.94,88.13 422.66,88.97 423.38,88.24 424.1,88.81 424.82,87.11 425.54,88.9 426.25,88.52 426.97,88.11 427.69,87.61 428.41,87.82 429.13,87.79 429.85,87.96 430.57,87.35 431.29,87.55 432.01,86.86 432.73,89.02 433.44,88.94 434.16,88.67 434.88,88.29 435.6,88.72 436.32,88.19 437.04,87.55 437.76,87.22 438.48,87.51 439.2,87 439.91,88.82 440.63,87.83 441.35,87.34 442.07,88.42 442.79,87.67 443.51,89.08 444.23,87.61 444.95,88.68 445.67,87.79 446.39,88.27 447.1,87.73 447.82,89.45 448.54,88.33 449.26,88.49 449.98,86.8 450.7,87.6 451.42,89.01 452.14,87.77 452.86,89.25 453.57,87.49 454.29,87.58 455.01,87.63 455.73,87.37 456.45,88.6 457.17,88.25 457.89,88.51 458.61,87.63 459.33,88.71 460.04,88.32 460.76,88.57 461.48,87.84 462.2,87.11 462.92,87.69 463.64,88.39 464.36,87.18 465.08,87.54 465.8,87.91 466.52,88.35 467.23,87.41 467.95,88.59 468.67,88.78 469.39,87.45 470.11,88.36 470.83,88.24 471.55,88.29 472.27,88.81 472.99,88.34 473.7,88.03 474.42,88.04 475.14,88.04 475.86,88.77 476.58,88.98 477.3,88.04 478.02,87.96 478.74,87.08 479.46,88.45 480.17,88.8 480.89,87.19 481.61,87.47 482.33,87.55 483.05,88.14 483.77,88.14 484.49,87.81 485.21,87.66 485.93,87.44 486.65,87.15 487.36,87.87 488.08,87.87 488.8,88.06 489.52,86.98 490.24,87.72 490.96,88.46 491.68,87.44 492.4,87.15 493.12,87.42 493.83,88.64 494.55,87.92 495.27,88.77 495.99,87.34 496.71,87.62 497.43,87.72 498.15,87.25 498.87,88.51 499.59,88.45 500.31,87.36 501.02,87.49 501.74,88.74" fill="none" stroke="#111" stroke-width="1.2" stroke-linejoin="round"/>
<text x="508.81" y="49.76" font-size="4.7" text-anchor="middle" fill="#000">4</text>
<text x="508.81" y="70.01" font-size="4.7" text-anchor="middle" fill="#000">3</text>
<text x="508.81" y="75.99" font-size="4.7" text-anchor="middle" fill="#000">2</text>
<text x="508.81" y="88.94" font-size="4.7" text-anchor="middle" fill="#000">1</text>
<line x1="18.5" y1="163.8" x2="155.4" y2="163.8" stroke="#8c8c8c" stroke-width="0.8"/>
<line x1="18.5" y1="180.46" x2="155.4" y2="180.46" stroke="#8c8c8c" stroke-width="0.8"/>
<line x1="18.5" y1="197.12" x2="155.4" y2="197.12" stroke="#8c8c8c" stroke-width="0.8"/>
<line x1="18.5" y1="213.78" x2="155.4" y2="213.78" stroke="#8c8c8c" stroke-width="0.8"/>
<line x1="18.5" y1="230.44" x2="155.4" y2="230.44" stroke="#8c8c8c" stroke-width="0.8"/>
<line x1="155.4" y1="163.8" x2="155.4" y2="247.1" stroke="#8c8c8c" stroke-width="0.8"/>
<line x1="20" y1="163.8" x2="20" y2="247.1" stroke="#777" stroke-width="0.8"/>
<line x1="18.5" y1="247.1" x2="155.4" y2="247.1" stroke="#555" stroke-width="0.9"/>
<text x="16.8" y="165.6" font-size="5.0" text-anchor="end" fill="#000">900</text>
<text x="16.8" y="182.26" font-size="5.0" text-anchor="end" fill="#000">850</text>
<text x="16.8" y="198.92" font-size="5.0" text-anchor="end" fill="#000">800</text>
<text x="16.8" y="215.58" font-size="5.0" text-anchor="end" fill="#000">750</text>
<text x="16.8" y="232.24" font-size="5.0" text-anchor="end" fill="#000">700</text>
<text x="16.8" y="248.9" font-size="5.0" text-anchor="end" fill="#000">650</text>
<line x1="20" y1="247.1" x2="20" y2="248.6" stroke="#555" stroke-width="0.7"/>
<text x="20.6" y="255.3" font-size="5.0" text-anchor="middle" fill="#000">0</text>
<line x1="35.04" y1="247.1" x2="35.04" y2="248.6" stroke="#555" stroke-width="0.7"/>
<text x="35.64" y="255.3" font-size="5.0" text-anchor="middle" fill="#000">5</text>
<line x1="50.09" y1="247.1" x2="50.09" y2="248.6" stroke="#555" stroke-width="0.7"/>
<text x="50.69" y="255.3" font-size="5.0" text-anchor="middle" fill="#000">10</text>
<line x1="65.13" y1="247.1" x2="65.13" y2="248.6" stroke="#555" stroke-width="0.7"/>
<text x="65.73" y="255.3" font-size="5.0" text-anchor="middle" fill="#000">15</text>
<line x1="80.18" y1="247.1" x2="80.18" y2="248.6" stroke="#555" stroke-width="0.7"/>
<text x="80.78" y="255.3" font-size="5.0" text-anchor="middle" fill="#000">20</text>
<line x1="95.22" y1="247.1" x2="95.22" y2="248.6" stroke="#555" stroke-width="0.7"/>
<text x="95.82" y="255.3" font-size="5.0" text-anchor="middle" fill="#000">25</text>
<line x1="110.27" y1="247.1" x2="110.27" y2="248.6" stroke="#555" stroke-width="0.7"/>
<text x="110.87" y="255.3" font-size="5.0" text-anchor="middle" fill="#000">30</text>
<line x1="125.31" y1="247.1" x2="125.31" y2="248.6" stroke="#555" stroke-width="0.7"/>
<text x="125.91" y="255.3" font-size="5.0" text-anchor="middle" fill="#000">35</text>
<line x1="140.36" y1="247.1" x2="140.36" y2="248.6" stroke="#555" stroke-width="0.7"/>
<text x="140.96" y="255.3" font-size="5.0" text-anchor="middle" fill="#000">40</text>
<line x1="155.4" y1="247.1" x2="155.4" y2="248.6" stroke="#555" stroke-width="0.7"/>
<text x="156" y="255.3" font-size="5.0" text-anchor="middle" fill="#000">45</text>
<text x="84.3" y="265.2" font-size="5.4" font-weight="bold" text-anchor="middle" fill="#000" textLength="39.2" lengthAdjust="spacingAndGlyphs">Time (seconds)</text>
<text x="4.4" y="209" font-size="5.9" text-anchor="middle" fill="#000" transform="rotate(-90 4.4 209)" stroke="#000" stroke-width="0.15" textLength="84.1" lengthAdjust="spacingAndGlyphs">Fluorescence increase at 510 nm</text>
<text x="25.9" y="174.3" font-size="4.0" font-weight="bold" text-anchor="start" fill="#000" textLength="7.8" lengthAdjust="spacingAndGlyphs">ADP</text>
<line x1="42.12" y1="214.11" x2="42.12" y2="247.1" stroke="#000" stroke-width="0.8"/>
<line x1="40.76" y1="232.11" x2="40.76" y2="247.1" stroke="#aaa" stroke-width="0.8"/>
<line x1="42.42" y1="237.1" x2="42.42" y2="247.1" stroke="#111" stroke-width="0.8"/>
<line x1="43.02" y1="215.45" x2="43.02" y2="247.1" stroke="#bbb" stroke-width="0.8"/>
<line x1="43.77" y1="215.45" x2="43.77" y2="247.1" stroke="#c4c4c4" stroke-width="0.8"/>
<line x1="44.52" y1="215.45" x2="44.52" y2="247.1" stroke="#bbb" stroke-width="0.8"/>
<line x1="45.27" y1="215.45" x2="45.27" y2="247.1" stroke="#c4c4c4" stroke-width="0.8"/>
<line x1="46.48" y1="232.44" x2="46.48" y2="247.1" stroke="#111" stroke-width="0.8"/>
<line x1="49.64" y1="237.44" x2="49.64" y2="247.1" stroke="#aaa" stroke-width="0.8"/>
<line x1="50.09" y1="237.44" x2="50.09" y2="247.1" stroke="#222" stroke-width="0.8"/>
<line x1="51.29" y1="222.11" x2="51.29" y2="247.1" stroke="#555" stroke-width="0.8"/>
<line x1="55.99" y1="215.11" x2="55.99" y2="247.1" stroke="#999" stroke-width="0.8"/>
<line x1="66.94" y1="205.45" x2="66.94" y2="247.1" stroke="#777" stroke-width="0.8"/>
<polyline points="20,213.73 20.72,214.63 21.44,213.77 22.17,213.4 22.89,214.31 23.61,214.49 24.33,214.51 25.05,214.86 25.78,214.59 26.5,213.63 27.22,213.8 27.94,213.11 28.67,213.51 29.39,213.54 30.11,214.52 30.83,213.99 31.55,213.53 32.28,214.12 33,213.27 33.72,213.43 34.44,214.55 35.16,213.75 35.89,213.44 36.61,214.18 37.33,214.88 38.05,213.9 38.78,214.12 39.5,214.52 40.22,214.28 40.94,213.23 41.66,213.5" fill="none" stroke="#111" stroke-width="1.2" stroke-linejoin="round"/>
<polyline points="66.94,205.74 67.66,206.22 68.38,207.27 69.11,207.34 69.83,208.24 70.55,209.57 71.27,208.76 71.99,209.99 72.72,209.25 73.44,208.6 74.16,207.75 74.88,206.18 75.6,206.01 76.33,205.67 77.05,204.33 77.77,204.53 78.49,202.77 79.21,202.46 79.94,200.38 80.66,199 81.38,198.25 82.1,196.7 82.83,195.79 83.55,194.03 84.27,193.6 84.99,192.46 85.71,190.04 86.44,189.34 87.16,188.15 87.88,187.16 88.6,185.1 89.32,184.23 90.05,182.57 90.77,181.15 91.49,180.27 92.21,179.23 92.94,178.48 93.66,178.86 94.38,178.39 95.1,177.56 95.82,178.43 96.55,177.41 97.27,177.96 97.99,177.42 98.71,176.58 99.43,176.81 100.16,176.14 100.88,175.61 101.6,175.75 102.32,175.14 103.05,175.09 103.77,174.66 104.49,174.69 105.21,174.58 105.93,173.91 106.66,174.6 107.38,174.51 108.1,174.79 108.82,174.14 109.54,174.65 110.27,173.96 110.99,173.95 111.71,174.39 112.43,173.35 113.16,173.07 113.88,172.28 114.6,172.96 115.32,172.1 116.04,171.83 116.77,171.8 117.49,171.31 118.21,172.23 118.93,171.64 119.65,172.18 120.38,172.6 121.1,171.59 121.82,172.11 122.54,172.19 123.27,172.02 123.99,172.18 124.71,172.62 125.43,172.97 126.15,172.11 126.88,172.5 127.6,172.93 128.32,171.58 129.04,171.45 129.76,170.74 130.49,172.59 131.21,171.6 131.93,172.15 132.65,172.08 133.37,173.41 134.1,172.29 134.82,170.78 135.54,171.99 136.26,171.52 136.99,171.14 137.71,172.04 138.43,171.63 139.15,172.91 139.87,171.85" fill="none" stroke="#111" stroke-width="1.2" stroke-linejoin="round"/>
<polyline points="20,223.64 20.72,223.38 21.44,223.62 22.17,223.03 22.89,222.5 23.61,223.08 24.33,222.7 25.05,222.3 25.78,222.57 26.5,222.87 27.22,222.93 27.94,222.51 28.67,221.9 29.39,222.83 30.11,222.26 30.83,223.72 31.55,223.34 32.28,222.73 33,223.05 33.72,222.89 34.44,223.26 35.16,223.62 35.89,224.1 36.61,223.72 37.33,222.79 38.05,222.3 38.78,221.94 39.5,223.13 40.22,222.74 40.94,221.99 41.66,222.3 42.39,223.64 43.11,223.75" fill="none" stroke="#111" stroke-width="1.2" stroke-linejoin="round"/>
<polyline points="43.92,223.49 44.64,219.98 45.36,215.95 46.09,216.14 46.81,215.59 47.53,215.32 48.25,215.41 48.98,215.34 49.7,216.02 50.42,215.55 51.14,214.86 51.86,215.24 52.59,214.83 53.31,214.86 54.03,215.49 54.75,214.95 55.47,214.47" fill="none" stroke="#111" stroke-width="1.2" stroke-linejoin="round"/>
<polyline points="51.29,221.85 52.01,222.15 52.74,222.51 53.46,224.4 54.18,224.64 54.9,224.46 55.63,224.64 56.35,224.72 57.07,223.58 57.79,223.5 58.51,224.2 59.24,224.01 59.96,223.6 60.68,223.63 61.4,223.93 62.12,223.54 62.85,224.63 63.57,224.27 64.29,223.88 65.01,223.8 65.74,223.25 66.46,223.22 67.18,222.53 67.9,222.9 68.62,221.58 69.35,222.08 70.07,222.04 70.79,221.23 71.51,222.19 72.23,220.75 72.96,221.7 73.68,220.89 74.4,220.38 75.12,218.78 75.84,219.56 76.57,219.87 77.29,219.02 78.01,218.1 78.73,218.96 79.46,218.25 80.18,217.29 80.9,216.6 81.62,216.68 82.34,215.75 83.07,215.67 83.79,215.61 84.51,215.59 85.23,215.43 85.95,213.91 86.68,213.18 87.4,212.8 88.12,213.78 88.84,211.85 89.57,212.69 90.29,212.63 91.01,212.05 91.73,210.94 92.45,211.3 93.18,210.54 93.9,209.04 94.62,209.15 95.34,208.96 96.06,209.58 96.79,208.01 97.51,208.65 98.23,207.44 98.95,208.61 99.68,207.42 100.4,208.52 101.12,207.72 101.84,207.2 102.56,207 103.29,207.13 104.01,206.24 104.73,206.96 105.45,206.21 106.17,205.59 106.9,205.83 107.62,205.53 108.34,204.9 109.06,204.98 109.79,205.21 110.51,203.83 111.23,203.94 111.95,204.95 112.67,204.17 113.4,203.47 114.12,203.05 114.84,203.51 115.56,203.35 116.28,204.38 117.01,203.64 117.73,203.66 118.45,202.28 119.17,202.87 119.9,202.38 120.62,203.73 121.34,202.48 122.06,201.94 122.78,201.76 123.51,202.37 124.23,203.3 124.95,202.38 125.67,202.77 126.39,203.25 127.12,201.62 127.84,201.85 128.56,202.21 129.28,200.92 130,200.8 130.73,200.66 131.45,201.4 132.17,201.8 132.89,201.72 133.62,201.95 134.34,201.01 135.06,201.37 135.78,202.06 136.5,200.61 137.23,201.1 137.95,201.27 138.67,200.74 139.39,200.67 140.11,199.68" fill="none" stroke="#111" stroke-width="1.2" stroke-linejoin="round"/>
<polyline points="20,231.78 20.72,231.92 21.44,231.44 22.17,231.84 22.89,231.97 23.61,231.7 24.33,231.97 25.05,232.8 25.78,232.6 26.5,233.36 27.22,231.52 27.94,232.48 28.67,232.56 29.39,231.93 30.11,230.94 30.83,232.4 31.55,232.51 32.28,231.49 33,231.08 33.72,232.1 34.44,231.53 35.16,232.53 35.89,232.46 36.61,232.92 37.33,231.78 38.05,231.91 38.78,232 39.5,231.86" fill="none" stroke="#111" stroke-width="1.2" stroke-linejoin="round"/>
<polyline points="46.48,232.29 47.2,232.84 47.92,232.31 48.64,232.63 49.37,232.22 50.09,232.52 50.81,232.27 51.53,232.82 52.26,231.97 52.98,231.6 53.7,233.09 54.42,232 55.14,231.25 55.87,231.87 56.59,231.47 57.31,231.95 58.03,230.34 58.75,230.56 59.48,231.26 60.2,231.52 60.92,231.68 61.64,231.82 62.37,231.06 63.09,231.72 63.81,231.68 64.53,231.4 65.25,230.82 65.98,231.62 66.7,230.2 67.42,231.66 68.14,229.87 68.86,230.33 69.59,230.97 70.31,229.17 71.03,229.46 71.75,228.94 72.48,228.38 73.2,227.32 73.92,226.76 74.64,227.36 75.36,226.72 76.09,225.23 76.81,226.32 77.53,226.09 78.25,224.61 78.97,225.17 79.7,224.59 80.42,222.88 81.14,223.29 81.86,224.26 82.58,223.55 83.31,223.33 84.03,222.68 84.75,221.99 85.47,221.24 86.2,220.91 86.92,221.29 87.64,221.14 88.36,220.91 89.08,220.88 89.81,220.7 90.53,220.23 91.25,220.44 91.97,219.35 92.69,219.66 93.42,219.21 94.14,218.82 94.86,219.35 95.58,218.64 96.31,218.02 97.03,217.86 97.75,218.82 98.47,218.04 99.19,217.92 99.92,217.04 100.64,218.57 101.36,217.47 102.08,217.69 102.8,217.7 103.53,216.96 104.25,217.9 104.97,218.67 105.69,217.54 106.42,218.3 107.14,218 107.86,216.97 108.58,216.08 109.3,216.46 110.03,216.19 110.75,216.33 111.47,215.95 112.19,216.36 112.91,216.27 113.64,217.84 114.36,217.26 115.08,217.34 115.8,218.04 116.53,216.96 117.25,217.6 117.97,217.27 118.69,216.53 119.41,217.06 120.14,217.21 120.86,216.92 121.58,217.71 122.3,217.41 123.02,216.17 123.75,216.65 124.47,216.64 125.19,217.35 125.91,217.09 126.64,217.07 127.36,217.42 128.08,218.2 128.8,218.64 129.52,217.26 130.25,217.43 130.97,217.77 131.69,217.51 132.41,218.15 133.13,217.53 133.86,218.42 134.58,218.92 135.3,218.03 136.02,218.72 136.74,219.78 137.47,220.07 138.19,220.28 138.91,218.87 139.63,219.41 140.36,219.45" fill="none" stroke="#111" stroke-width="1.2" stroke-linejoin="round"/>
<polyline points="20,238.78 20.72,240.09 21.44,238.21 22.17,240.01 22.89,238.03 23.61,239.51 24.33,239.31 25.05,239.87 25.78,238.13 26.5,239.98 27.22,239.28 27.94,238.91 28.67,239.19 29.39,238.83 30.11,238.6 30.83,239.04 31.55,239.52 32.28,238.13 33,238.63 33.72,238.8 34.44,239.12 35.16,238.8 35.89,239.32 36.61,238.16 37.33,238.36 38.05,239.3 38.78,239.35 39.5,239.3 40.22,237.8 40.94,238.19" fill="none" stroke="#111" stroke-width="1.2" stroke-linejoin="round"/>
<polyline points="50.09,237.06 50.81,238.78 51.53,237.18 52.26,238.73 52.98,238.64 53.7,237.64 54.42,238.57 55.14,238.67 55.87,237.66 56.59,236.95 57.31,237.61 58.03,238.61 58.75,239.19 59.48,238.92 60.2,238.19 60.92,237.77 61.64,238.23 62.37,238.74 63.09,238.56 63.81,237.63 64.53,238.82 65.25,237.1 65.98,236.9 66.7,237.12 67.42,237.5 68.14,237.76 68.86,237.96 69.59,237.45 70.31,236.93 71.03,237.89 71.75,237.79 72.48,236.97 73.2,236.93 73.92,238.33 74.64,237.43 75.36,237.36 76.09,237.7 76.81,236.41 77.53,237.07 78.25,235.96 78.97,236.65 79.7,235.16 80.42,236.41 81.14,236.28 81.86,235.45 82.58,235.25 83.31,234.9 84.03,235.43 84.75,235.92 85.47,235.29 86.2,236.08 86.92,235.79 87.64,235.29 88.36,235.41 89.08,236.69 89.81,235.47 90.53,236.6 91.25,234.69 91.97,234.9 92.69,234.66 93.42,235.12 94.14,235.19 94.86,234.76 95.58,235.39 96.31,234.39 97.03,234.09 97.75,234.13 98.47,234.17 99.19,233.85 99.92,234.2 100.64,234.02 101.36,233.44 102.08,233.86 102.8,234.96 103.53,234.65 104.25,233.69 104.97,234.57 105.69,233.62 106.42,233.98 107.14,233.07 107.86,232.53 108.58,233.94 109.3,234.46 110.03,234.13 110.75,234.07 111.47,232.93 112.19,233.13 112.91,233.68 113.64,232.37 114.36,232.78 115.08,233.15 115.8,233.01 116.53,232.45 117.25,232.65 117.97,231.88 118.69,232.18 119.41,232.95 120.14,231.39 120.86,231.32 121.58,232.72 122.3,232.88 123.02,232.75 123.75,231.81 124.47,231.23 125.19,230.32 125.91,230.76 126.64,231.78 127.36,231.33 128.08,230.53 128.8,230.83 129.52,231.55 130.25,231.29 130.97,230.49 131.69,231.28 132.41,231.66 133.13,230.23 133.86,230.41 134.58,230.5 135.3,229.86 136.02,229.65 136.74,229.83 137.47,229.13 138.19,228.3 138.91,229.18 139.63,229.89 140.36,229.26" fill="none" stroke="#111" stroke-width="1.2" stroke-linejoin="round"/>
<text x="146.98" y="174.83" font-size="4.7" text-anchor="middle" fill="#000">4</text>
<text x="146.98" y="202.82" font-size="4.7" text-anchor="middle" fill="#000">3</text>
<text x="146.98" y="221.14" font-size="4.7" text-anchor="middle" fill="#000">2</text>
<text x="146.98" y="236.47" font-size="4.7" text-anchor="middle" fill="#000">1</text>
<line x1="201.7" y1="260.55" x2="307.7" y2="260.55" stroke="#111" stroke-width="0.9"/>
<line x1="201.7" y1="241.7" x2="307.7" y2="241.7" stroke="#111" stroke-width="0.9"/>
<line x1="201.7" y1="222.85" x2="307.7" y2="222.85" stroke="#111" stroke-width="0.9"/>
<line x1="201.7" y1="204" x2="307.7" y2="204" stroke="#111" stroke-width="0.9"/>
<line x1="201.7" y1="185.15" x2="307.7" y2="185.15" stroke="#111" stroke-width="0.9"/>
<line x1="201.7" y1="166.3" x2="307.7" y2="166.3" stroke="#111" stroke-width="0.9"/>
<line x1="307.7" y1="166.3" x2="307.7" y2="279.4" stroke="#333" stroke-width="0.9"/>
<line x1="201.7" y1="166.3" x2="201.7" y2="279.4" stroke="#222" stroke-width="1.2"/>
<line x1="201.7" y1="279.4" x2="307.7" y2="279.4" stroke="#111" stroke-width="1.1"/>
<line x1="199.7" y1="279.4" x2="201.7" y2="279.4" stroke="#000" stroke-width="0.9"/>
<text x="197.1" y="282.5" font-size="8.6" font-weight="bold" text-anchor="end" fill="#000">600</text>
<line x1="199.7" y1="260.55" x2="201.7" y2="260.55" stroke="#000" stroke-width="0.9"/>
<text x="197.1" y="263.65" font-size="8.6" font-weight="bold" text-anchor="end" fill="#000">650</text>
<line x1="199.7" y1="241.7" x2="201.7" y2="241.7" stroke="#000" stroke-width="0.9"/>
<text x="197.1" y="244.8" font-size="8.6" font-weight="bold" text-anchor="end" fill="#000">700</text>
<line x1="199.7" y1="222.85" x2="201.7" y2="222.85" stroke="#000" stroke-width="0.9"/>
<text x="197.1" y="225.95" font-size="8.6" font-weight="bold" text-anchor="end" fill="#000">750</text>
<line x1="199.7" y1="204" x2="201.7" y2="204" stroke="#000" stroke-width="0.9"/>
<text x="197.1" y="207.1" font-size="8.6" font-weight="bold" text-anchor="end" fill="#000">800</text>
<line x1="199.7" y1="185.15" x2="201.7" y2="185.15" stroke="#000" stroke-width="0.9"/>
<text x="197.1" y="188.25" font-size="8.6" font-weight="bold" text-anchor="end" fill="#000">850</text>
<line x1="199.7" y1="166.3" x2="201.7" y2="166.3" stroke="#000" stroke-width="0.9"/>
<text x="197.1" y="169.4" font-size="8.6" font-weight="bold" text-anchor="end" fill="#000">900</text>
<line x1="201.7" y1="279.4" x2="201.7" y2="281.4" stroke="#000" stroke-width="0.9"/>
<text x="202.1" y="297.5" font-size="8.6" font-weight="bold" text-anchor="middle" fill="#000">0</text>
<line x1="222.9" y1="279.4" x2="222.9" y2="281.4" stroke="#000" stroke-width="0.9"/>
<text x="223.3" y="297.5" font-size="8.6" font-weight="bold" text-anchor="middle" fill="#000">50</text>
<line x1="244.1" y1="279.4" x2="244.1" y2="281.4" stroke="#000" stroke-width="0.9"/>
<text x="244.5" y="297.5" font-size="8.6" font-weight="bold" text-anchor="middle" fill="#000">100</text>
<line x1="265.3" y1="279.4" x2="265.3" y2="281.4" stroke="#000" stroke-width="0.9"/>
<text x="265.7" y="297.5" font-size="8.6" font-weight="bold" text-anchor="middle" fill="#000">150</text>
<line x1="286.5" y1="279.4" x2="286.5" y2="281.4" stroke="#000" stroke-width="0.9"/>
<text x="286.9" y="297.5" font-size="8.6" font-weight="bold" text-anchor="middle" fill="#000">200</text>
<line x1="307.7" y1="279.4" x2="307.7" y2="281.4" stroke="#000" stroke-width="0.9"/>
<text x="308.1" y="297.5" font-size="8.6" font-weight="bold" text-anchor="middle" fill="#000">250</text>
<text x="206.9" y="176.5" font-size="8.8" font-weight="bold" text-anchor="start" fill="#000">P</text>
<text x="213" y="179.2" font-size="5.9" font-weight="bold" text-anchor="start" fill="#000">2X1wt</text>
<polyline points="201.7,267.18 202.21,266.62 202.72,265.49 203.23,267.36 203.74,266.64 204.24,266.04 204.75,265.84 205.26,266.29 205.77,266.07 206.28,265.37 206.79,265.43 207.3,266.88 207.81,266.2 208.31,265.14 208.82,266.18 209.33,266.92 209.8,253.39 210.1,264.32 210.9,262.06 212.3,253.76 214.34,243.21 215.69,237.18 217.13,234.16 217.13,233.28 217.56,234.69 217.98,234.58 218.41,233.89 218.83,234.48 219.25,233.71 219.68,233.8 220.1,234.73 220.53,234.05 220.95,234.44 221.37,234.49 221.63,235.73 222.05,236.38 222.48,237.48 222.9,237.53 223.32,237.42 223.75,238.13 224.17,239.99 224.6,240.58 225.02,240.89 225.44,240.86 225.87,241.85 226.29,242.93 226.72,243.09 227.14,243.47 227.56,243.86 227.99,245.01 228.41,245.28 228.84,245.88 229.26,246.62 229.68,248.11 230.11,247.75 230.53,249.27 230.96,250.02 231.38,250.03 231.8,251.29 232.23,251.77 232.65,251.86 233.08,252.31 233.5,253.43 233.92,252.71 234.35,253.44 234.77,254.55 235.2,254.97 235.83,260.55 236.47,267.34 237.1,264.32 238.16,249.24 239.44,236.04 241.13,227.37 241.81,226.24 242.19,228.35 242.62,229.67 243.04,232.84 243.46,234.74 243.89,236.96 244.31,238.31 244.74,240.73 245.16,242.71 245.58,244.57 246.01,245.84 246.43,248.46 246.86,249.67 247.28,251.46 247.7,252.85 248.13,254.02 248.55,255 248.98,256.05 249.4,257.28 249.82,257.98 250.25,259.21 250.67,260.22 251.1,260.54 251.52,261.8 251.94,262.66 252.37,263.05 252.79,264.24 253.22,264.82 253.64,264.67 254.06,265.06 254.49,265.78 254.91,266.73 255.34,266.89 255.76,267.21 256.18,268.06 256.61,267.86 257.03,267.91 257.46,268.59 257.88,268.89 258.3,269.37 258.73,269.24 259.15,269.88 259.58,269.34 260,269.75 260.42,269.34 260.85,270.23 261.27,269.91 261.7,270.88 262.12,270.52 262.54,270.22 262.97,270.96 263.39,270.62 263.82,271.15 264.24,270.99 264.66,270.33 265.09,271.35 265.51,270.54 265.94,271.62 266.36,271.05 266.78,270.82 267.21,270.85 267.63,271.45 268.06,271.26 268.48,271.17 268.9,271.17 269.33,260.55 269.75,234.16 270.39,207.77 271.24,185.9 271.74,177.61 273.27,174.59 274.2,174.97 275.05,176.86 277.98,182.89 280.14,188.54 282.6,195.71 284.38,202.12 286.2,209.28" fill="none" stroke="#000" stroke-width="1.6" stroke-linejoin="round"/>
<line x1="209.12" y1="227.2" x2="209.12" y2="235" stroke="#000" stroke-width="0.9"/>
<path d="M207.42,232.4 L209.12,236 L210.82,232.4 Z" fill="#000"/>
<line x1="236.6" y1="227.2" x2="236.6" y2="235" stroke="#000" stroke-width="0.9"/>
<path d="M234.9,232.4 L236.6,236 L238.3,232.4 Z" fill="#000"/>
<line x1="267.08" y1="227.2" x2="267.08" y2="235" stroke="#000" stroke-width="0.9"/>
<path d="M265.38,232.4 L267.08,236 L268.78,232.4 Z" fill="#000"/>
<text x="212.6" y="219.3" font-size="8.2" font-weight="bold" text-anchor="middle" fill="#000">ATP</text>
<text x="237.6" y="219.3" font-size="8.2" font-weight="bold" text-anchor="middle" fill="#000">ADP</text>
<text x="265.1" y="219.3" font-size="8.2" font-weight="bold" text-anchor="middle" fill="#000">C</text>
<line x1="349.3" y1="256.7" x2="474.2" y2="256.7" stroke="#111" stroke-width="0.9"/>
<line x1="349.3" y1="234" x2="474.2" y2="234" stroke="#111" stroke-width="0.9"/>
<line x1="349.3" y1="211.3" x2="474.2" y2="211.3" stroke="#111" stroke-width="0.9"/>
<line x1="349.3" y1="188.6" x2="474.2" y2="188.6" stroke="#111" stroke-width="0.9"/>
<line x1="349.3" y1="165.9" x2="474.2" y2="165.9" stroke="#111" stroke-width="0.9"/>
<line x1="474.2" y1="165.9" x2="474.2" y2="279.4" stroke="#333" stroke-width="0.9"/>
<line x1="349.3" y1="165.9" x2="349.3" y2="279.4" stroke="#222" stroke-width="1.2"/>
<line x1="349.3" y1="279.4" x2="474.2" y2="279.4" stroke="#111" stroke-width="1.1"/>
<line x1="347.3" y1="279.4" x2="349.3" y2="279.4" stroke="#000" stroke-width="0.9"/>
<text x="343.4" y="282.5" font-size="8.6" font-weight="bold" text-anchor="end" fill="#000">450</text>
<line x1="347.3" y1="256.7" x2="349.3" y2="256.7" stroke="#000" stroke-width="0.9"/>
<text x="343.4" y="259.8" font-size="8.6" font-weight="bold" text-anchor="end" fill="#000">500</text>
<line x1="347.3" y1="234" x2="349.3" y2="234" stroke="#000" stroke-width="0.9"/>
<text x="343.4" y="237.1" font-size="8.6" font-weight="bold" text-anchor="end" fill="#000">550</text>
<line x1="347.3" y1="211.3" x2="349.3" y2="211.3" stroke="#000" stroke-width="0.9"/>
<text x="343.4" y="214.4" font-size="8.6" font-weight="bold" text-anchor="end" fill="#000">600</text>
<line x1="347.3" y1="188.6" x2="349.3" y2="188.6" stroke="#000" stroke-width="0.9"/>
<text x="343.4" y="191.7" font-size="8.6" font-weight="bold" text-anchor="end" fill="#000">650</text>
<line x1="347.3" y1="165.9" x2="349.3" y2="165.9" stroke="#000" stroke-width="0.9"/>
<text x="343.4" y="169" font-size="8.6" font-weight="bold" text-anchor="end" fill="#000">700</text>
<line x1="349.3" y1="279.4" x2="349.3" y2="281.4" stroke="#000" stroke-width="0.9"/>
<text x="349.7" y="297.5" font-size="8.6" font-weight="bold" text-anchor="middle" fill="#000">0</text>
<line x1="374.28" y1="279.4" x2="374.28" y2="281.4" stroke="#000" stroke-width="0.9"/>
<text x="374.68" y="297.5" font-size="8.6" font-weight="bold" text-anchor="middle" fill="#000">50</text>
<line x1="399.26" y1="279.4" x2="399.26" y2="281.4" stroke="#000" stroke-width="0.9"/>
<text x="399.66" y="297.5" font-size="8.6" font-weight="bold" text-anchor="middle" fill="#000">100</text>
<line x1="424.24" y1="279.4" x2="424.24" y2="281.4" stroke="#000" stroke-width="0.9"/>
<text x="424.64" y="297.5" font-size="8.6" font-weight="bold" text-anchor="middle" fill="#000">150</text>
<line x1="449.22" y1="279.4" x2="449.22" y2="281.4" stroke="#000" stroke-width="0.9"/>
<text x="449.62" y="297.5" font-size="8.6" font-weight="bold" text-anchor="middle" fill="#000">200</text>
<line x1="474.2" y1="279.4" x2="474.2" y2="281.4" stroke="#000" stroke-width="0.9"/>
<text x="474.6" y="297.5" font-size="8.6" font-weight="bold" text-anchor="middle" fill="#000">250</text>
<text x="353.7" y="176" font-size="8.8" font-weight="bold" text-anchor="start" fill="#000">P</text>
<text x="360" y="179" font-size="5.9" font-weight="bold" text-anchor="start" fill="#000">2X1del</text>
<polyline points="349.3,250.13 349.9,250.58 350.5,251.47 351.1,250.24 351.7,250.63 352.3,250.68 352.9,249.47 353.5,251.79 354.1,250.03 354.7,251.28 355.3,250.18 355.59,247.62 356.04,229.46 356.79,213.57 358.04,209.94 359.84,207.67 361.29,212.21 362.79,218.11 364.29,222.49 364.79,225.45 365.29,227.1 365.79,229.19 366.29,231.28 366.79,233.24 367.29,234.13 367.79,235.28 368.28,237.11 368.78,239.09 369.28,239.68 369.78,241.5 370.28,243.17 370.78,243.84 371.28,245.01 371.78,245.88 372.28,246.22 372.78,247.76 373.28,248.06 373.78,249.38 374.28,249.34 374.78,250.77 375.28,250.97 375.78,250.94 376.28,251.45 376.78,251.58 377.28,252.51 377.78,252.97 378.28,253.18 378.78,253.25 379.28,254.27 379.78,254.11 380.28,253.9 380.77,254.75 381.27,254.68 381.77,254.07 382.27,254.14 382.77,255.22 383.27,255.47 383.77,255.71 384.27,255.9 384.77,255.04 385.27,255.21 385.77,255.96 386.27,255.76 386.77,255.58 387.27,256.59 387.77,255.61 388.27,255.66 388.77,256.64 388.77,255.77 389.27,255.78 389.77,256.64 390.27,255.37 390.77,256.93 391.27,256.33 391.77,256.71 392.27,256.41 392.77,255.54 393.26,256.12 393.76,256.03 394.26,255.15 394.76,256.95 395.26,256.96 395.76,256.03 396.26,257.14 396.76,255.22 397.26,256.7 397.76,256.47 398.26,256.49 398.76,255.56 399.26,255.36 399.76,255.93 400.26,257.12 400.76,256.69 401.26,255.87 401.76,257.03 402.26,255.46 402.76,255.49 403.26,257.02 403.76,256.7 404.26,257.02 404.76,255.87 405.26,257.46 405.75,255.93 406.25,257.43 406.75,255.6 407.25,256.31 407.75,256.22 408.25,257.37 408.75,257.5 409.25,256.77 409.75,255.29 410.25,256.2 410.75,255.59 411.25,257.48 411.75,257.39 412.25,257.59 412.75,255.99 413.25,257.23 413.75,257 414.25,256.08 415.75,254.43 416.05,229.46 416.35,208.58 417.75,197.23 420.59,189.96 423.44,186.33 427.19,189.96 432.88,199.95 438.68,209.94" fill="none" stroke="#000" stroke-width="1.6" stroke-linejoin="round"/>
<line x1="353.25" y1="222.4" x2="353.25" y2="230.2" stroke="#000" stroke-width="0.9"/>
<path d="M351.55,227.6 L353.25,231.2 L354.95,227.6 Z" fill="#000"/>
<line x1="381.77" y1="222.4" x2="381.77" y2="230.2" stroke="#000" stroke-width="0.9"/>
<path d="M380.07,227.6 L381.77,231.2 L383.47,227.6 Z" fill="#000"/>
<line x1="412.75" y1="222.4" x2="412.75" y2="230.2" stroke="#000" stroke-width="0.9"/>
<path d="M411.05,227.6 L412.75,231.2 L414.45,227.6 Z" fill="#000"/>
<text x="361.6" y="203.1" font-size="8.2" font-weight="bold" text-anchor="middle" fill="#000">ADP</text>
<text x="385.2" y="203.1" font-size="8.2" font-weight="bold" text-anchor="middle" fill="#000">ATP</text>
<text x="411.9" y="203.1" font-size="8.2" font-weight="bold" text-anchor="middle" fill="#000">C</text>
<text x="330.8" y="316.4" font-size="8.7" font-weight="bold" text-anchor="middle" fill="#000" textLength="63.8" lengthAdjust="spacingAndGlyphs">Time (seconds)</text>
<text x="175.9" y="221.6" font-size="6.6" font-weight="bold" text-anchor="middle" fill="#000" transform="rotate(-90 175.9 221.6)" textLength="113" lengthAdjust="spacingAndGlyphs">Fluorescence increase at 510 nm</text>
</svg>
</body></html>
